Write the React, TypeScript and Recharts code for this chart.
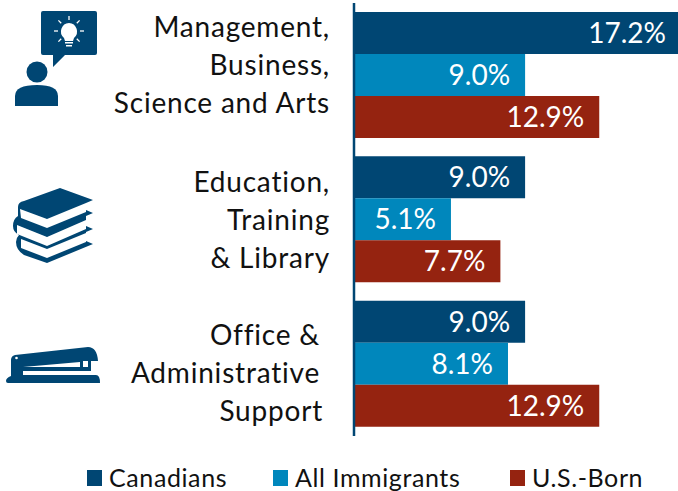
import React from "react";
import { BarChart, Bar, XAxis, YAxis, LabelList, Legend, Customized } from "recharts";

const categories = ["Management, Business, Science and Arts", "Education, Training & Library", "Office & Administrative Support"];
const tickLines = [
  ["Management,", "Business,", "Science and Arts"],
  ["Education,", "Training", "& Library"],
  ["Office &", "Administrative", "Support"],
];
const canadians = [17.2, 9.0, 9.0];
const immigrants = [9.0, 5.1, 8.1];
const usBorn = [12.9, 7.7, 12.9];
const seriesNames = ["Canadians", "All Immigrants", "U.S.-Born"];
const seriesColors = ["#004673", "#0087BC", "#952310"];

const data = categories.map((c, i) => ({
  category: c,
  canadians: canadians[i],
  immigrants: immigrants[i],
  usBorn: usBorn[i],
}));

const FONT = "Lato, 'Open Sans', sans-serif";
const NAVY = "#004673";

function PersonIcon() {
  const rays = [0, 45, 90, 135, 225, 270, 315];
  return (
    <g fill={NAVY}>
      <path d="M43 11H95Q97 11 97 13V53Q97 55 95 55H65L53 67V55H43Q41 55 41 53V13Q41 11 43 11Z" />
      <circle cx="37" cy="72" r="10.5" />
      <path d="M15 106V96Q15 85 37 85Q58 85 58 96V106Z" />
      <g fill="#fff">
        <path d="M69 23A8.5 8.5 0 0 1 74 38L73 41H65L64 38A8.5 8.5 0 0 1 69 23Z" />
        <rect x="65" y="42" width="8" height="1.5" />
        <rect x="66" y="45" width="6" height="1.5" />
      </g>
      <g stroke="#fff" strokeWidth="1.3">
        {rays.map((r) => (
          <line key={r} x1="69" y1="20" x2="69" y2="16" transform={`rotate(${r} 69 31)`} />
        ))}
      </g>
    </g>
  );
}

function BooksIcon() {
  return (
    <g>
      <path
        fill={NAVY}
        d="M60 188L93 200L86 203V210L93 213L86 216V226L93 229L86 232V241L93 244L47 263L24 255Q16 250 16 242Q16 238 19 235Q13 232 13 226Q13 219 18 216V207Q18 202 24 201Z"
      />
      <path fill="#fff" d="M20 209L47 219L86 203V212L47 228L21 218Z" />
      <path fill="#fff" d="M17 225L47 237L86 220V229L47 246L17 234Z" />
      <path fill="#fff" d="M21 239L47 249L86 233V242L47 258L21 248Z" />
    </g>
  );
}

function StaplerIcon() {
  return (
    <g fill={NAVY}>
      <path d="M15 355L88 347Q97 347 98 361H91V375H23V383H8Q6 383 6 381Q6 378 11 376V360Q11 356 15 355Z" />
      <path d="M20 375H96Q100 375 100 383H20Z" />
      <path fill="#fff" d="M23 367L80 362V367Z" />
      <rect x="23" y="371" width="68" height="4" fill="#fff" />
      <rect x="83" y="361" width="5" height="6" fill="#fff" />
      <circle cx="16.5" cy="358" r="1.3" fill="#fff" />
    </g>
  );
}

function CategoryTick(props: any) {
  const { y, index } = props;
  const rightEdge = [330, 330, 320][index];
  const shift = [0, 10, 19][index];
  const lines = tickLines[index];
  return (
    <text textAnchor="end" fontFamily={FONT} fontSize={28} letterSpacing={0.8} fill="#111">
      {lines.map((l, i) => (
        <tspan key={l} x={rightEdge + (index === 2 && i === 2 ? 3 : 0)} y={y + (i - 1) * 38 + shift}>
          {l}
        </tspan>
      ))}
    </text>
  );
}

function Icons() {
  return (
    <g>
      <PersonIcon />
      <BooksIcon />
      <StaplerIcon />
    </g>
  );
}

function LegendBody() {
  const xs = [87, 273, 510];
  return (
    <div style={{ position: "relative", width: 678, height: 31, fontFamily: FONT, fontSize: 25, letterSpacing: 0.6, color: "#111" }}>
      {seriesNames.map((n, i) => (
        <React.Fragment key={n}>
          <span style={{ position: "absolute", left: xs[i], top: 10, width: 15, height: 16, background: seriesColors[i] }} />
          <span style={{ position: "absolute", left: xs[i] + 22, top: 4, whiteSpace: "nowrap", lineHeight: "26px" }}>{n}</span>
        </React.Fragment>
      ))}
    </div>
  );
}

const labelFmt = (v: any) => `${Number(v).toFixed(1)}%`;

export default function App() {
  return (
    <div style={{ position: "absolute", left: 0, top: 0, width: 678, height: 491, overflow: "hidden", background: "#fff" }}>
      <BarChart
        width={681}
        height={491}
        data={data}
        layout="vertical"
        barCategoryGap={18}
        barGap={0}
        margin={{ top: 3, right: 0, bottom: 24, left: 0 }}
      >
        <XAxis type="number" domain={[0, 17.2]} hide />
        <YAxis
          type="category"
          dataKey="category"
          width={354}
          interval={0}
          tick={<CategoryTick />}
          tickLine={false}
          axisLine={{ stroke: NAVY, strokeWidth: 2.5 }}
        />
        <Customized component={<Icons />} />
        <Legend content={<LegendBody />} wrapperStyle={{ left: 0, top: 460, width: 678, height: 31, position: "absolute" }} height={0} />
        <Bar dataKey="canadians" name={seriesNames[0]} fill={seriesColors[0]} barSize={42} isAnimationActive={false}>
          <LabelList dataKey="canadians" position="insideRight" offset={15} fill="#fff" fontSize={28} fontFamily={FONT} formatter={labelFmt} />
        </Bar>
        <Bar dataKey="immigrants" name={seriesNames[1]} fill={seriesColors[1]} barSize={42} isAnimationActive={false}>
          <LabelList dataKey="immigrants" position="insideRight" offset={15} fill="#fff" fontSize={28} fontFamily={FONT} formatter={labelFmt} />
        </Bar>
        <Bar dataKey="usBorn" name={seriesNames[2]} fill={seriesColors[2]} barSize={42} isAnimationActive={false}>
          <LabelList dataKey="usBorn" position="insideRight" offset={15} fill="#fff" fontSize={28} fontFamily={FONT} formatter={labelFmt} />
        </Bar>
      </BarChart>
    </div>
  );
}
